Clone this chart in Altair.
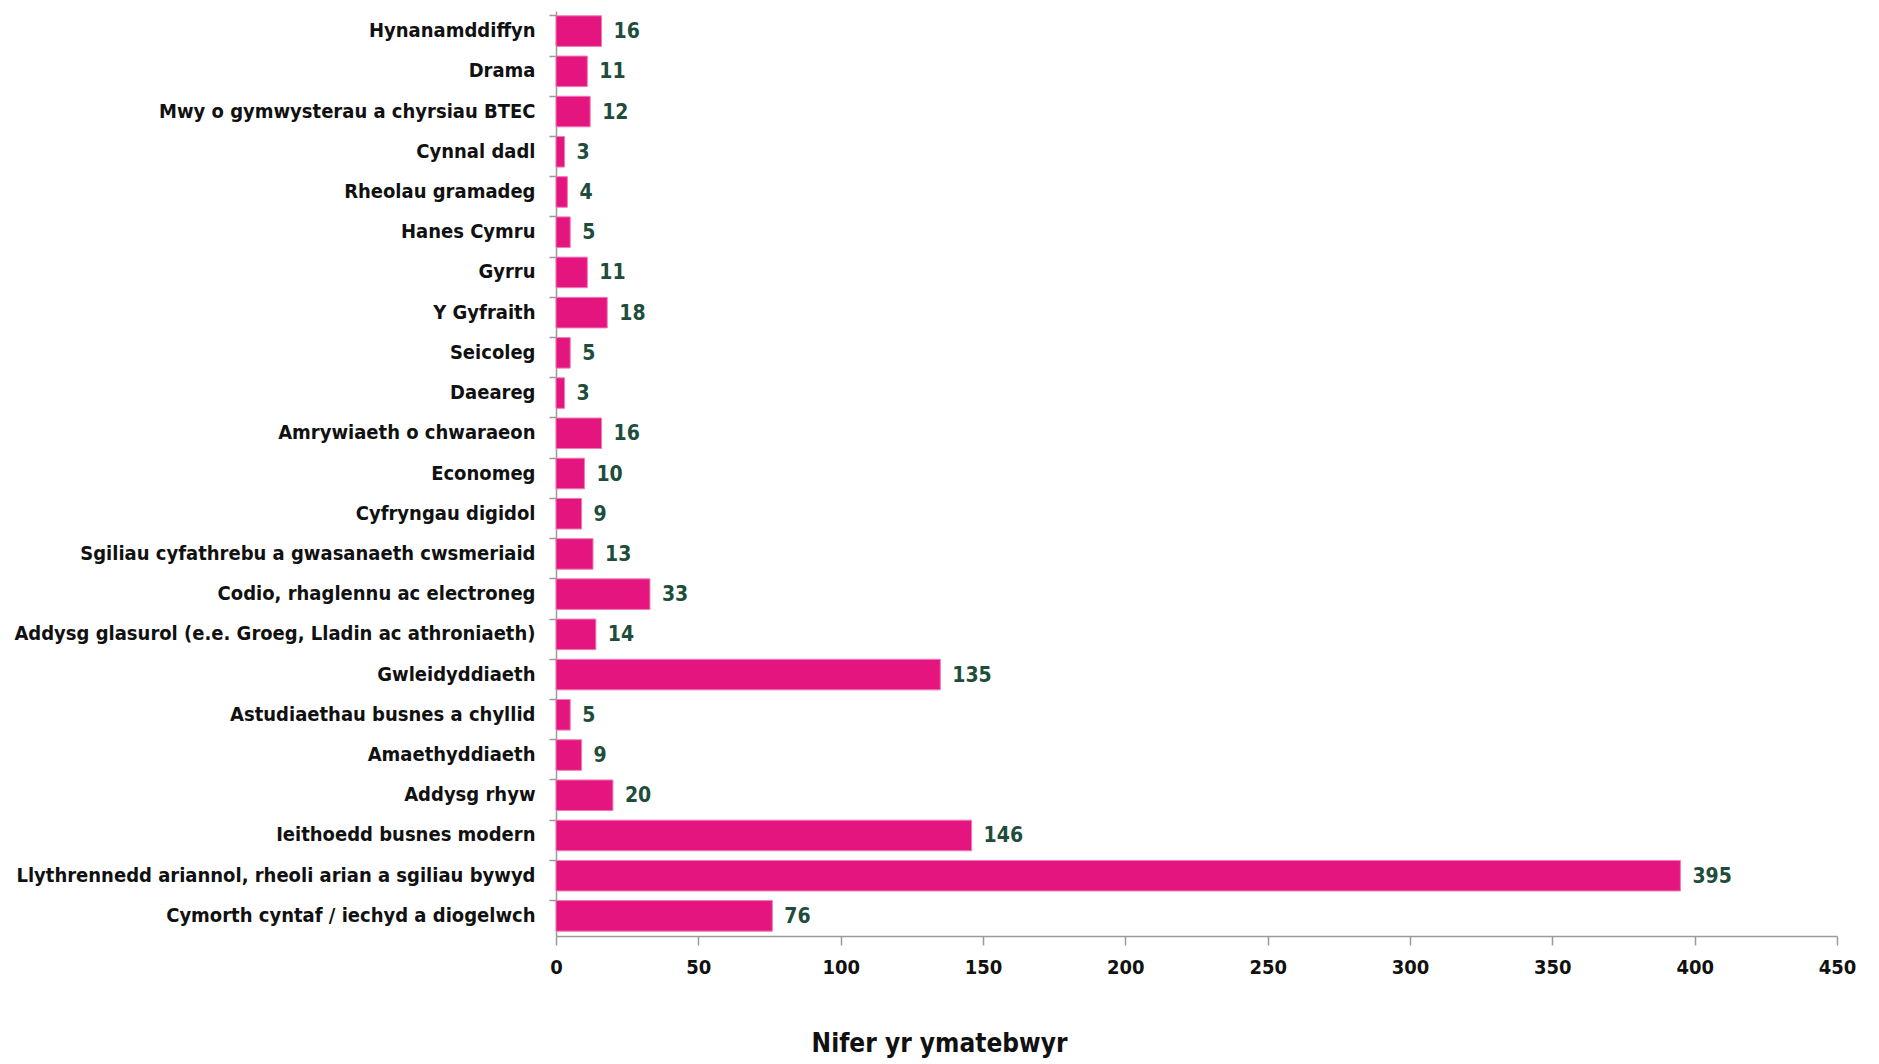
import altair as alt
import pandas as pd

categories = [
    "Hynanamddiffyn",
    "Drama",
    "Mwy o gymwysterau a chyrsiau BTEC",
    "Cynnal dadl",
    "Rheolau gramadeg",
    "Hanes Cymru",
    "Gyrru",
    "Y Gyfraith",
    "Seicoleg",
    "Daeareg",
    "Amrywiaeth o chwaraeon",
    "Economeg",
    "Cyfryngau digidol",
    "Sgiliau cyfathrebu a gwasanaeth cwsmeriaid",
    "Codio, rhaglennu ac electroneg",
    "Addysg glasurol (e.e. Groeg, Lladin ac athroniaeth)",
    "Gwleidyddiaeth",
    "Astudiaethau busnes a chyllid",
    "Amaethyddiaeth",
    "Addysg rhyw",
    "Ieithoedd busnes modern",
    "Llythrennedd ariannol, rheoli arian a sgiliau bywyd",
    "Cymorth cyntaf / iechyd a diogelwch",
]
values = [16, 11, 12, 3, 4, 5, 11, 18, 5, 3, 16, 10, 9, 13, 33, 14, 135, 5, 9, 20, 146, 395, 76]
x_ticks = [0, 50, 100, 150, 200, 250, 300, 350, 400, 450]

df = pd.DataFrame({"cat": categories, "val": values})

FONT = "'DejaVu Sans Condensed', Roboto, sans-serif"
PINK = "#E5157F"
GREEN = "#1E4D3B"

y_enc = alt.Y(
    "cat:N",
    sort=categories,
    scale=alt.Scale(paddingInner=0.24, paddingOuter=0.12),
    axis=alt.Axis(
        title=None,
        labelFont=FONT,
        labelFontSize=20,
        labelFontWeight="bold",
        labelColor="#111111",
        labelPadding=14,
        labelLimit=700,
        domainColor="#9a9a9a",
        domainWidth=1.5,
        tickColor="#9a9a9a",
        tickWidth=1.5,
        tickSize=7,
        bandPosition=0,
        grid=False,
    ),
)

x_enc = alt.X(
    "val:Q",
    scale=alt.Scale(domain=[0, 450], nice=False),
    axis=alt.Axis(
        values=x_ticks,
        title="Nifer yr ymatebwyr",
        titleFont=FONT,
        titleFontSize=26,
        titleFontWeight="bold",
        titleColor="#111111",
        titlePadding=53,
        titleX=383,
        labelFont=FONT,
        labelFontSize=20,
        labelFontWeight="bold",
        labelColor="#111111",
        labelPadding=12,
        labelFlush=False,
        domainColor="#9a9a9a",
        domainWidth=1.5,
        tickColor="#9a9a9a",
        tickWidth=1.5,
        tickSize=9,
        grid=False,
    ),
)

bars = alt.Chart(df).mark_bar(color=PINK, stroke="#F07AB5", strokeWidth=1).encode(
    y=y_enc, x=x_enc
)

labels = alt.Chart(df).mark_text(
    align="left", baseline="middle", dx=12, dy=1,
    font=FONT, fontSize=21, fontWeight="bold", color=GREEN,
).encode(y=alt.Y("cat:N", sort=categories), x=alt.X("val:Q"), text=alt.Text("val:Q"))

chart = (
    alt.layer(bars, labels)
    .properties(
        width=1281,
        height=925,
        autosize=alt.AutoSizeParams(type="none"),
        padding={"left": 548, "top": 3, "right": 30, "bottom": 125},
    )
    .configure(background="white")
    .configure_view(stroke=None, strokeWidth=0)
)

chart.save("out.html", embed_options={"renderer": "svg", "actions": False})
